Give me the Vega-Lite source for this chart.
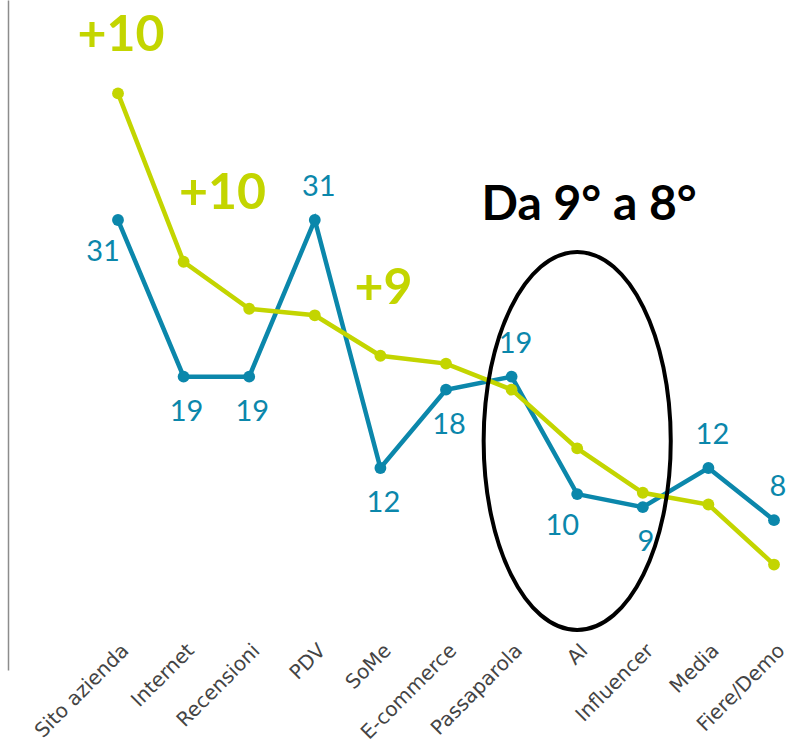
{
  "$schema": "https://vega.github.io/schema/vega-lite/v6.json",
  "width": 780,
  "height": 670,
  "autosize": {"type": "none"},
  "padding": {"left": 8, "top": 0, "right": 0, "bottom": 80},
  "background": "white",
  "config": {
    "view": {"stroke": null},
    "font": "Lato",
    "axis": {"labelFont": "DejaVu Sans"}
  },
  "datasets": {
    "serie": [
      {"canale": "Sito azienda", "serie": "S1", "valore": 31},
      {"canale": "Internet", "serie": "S1", "valore": 19},
      {"canale": "Recensioni", "serie": "S1", "valore": 19},
      {"canale": "PDV", "serie": "S1", "valore": 31},
      {"canale": "SoMe", "serie": "S1", "valore": 12},
      {"canale": "E-commerce", "serie": "S1", "valore": 18},
      {"canale": "Passaparola", "serie": "S1", "valore": 19},
      {"canale": "AI", "serie": "S1", "valore": 10},
      {"canale": "Influencer", "serie": "S1", "valore": 9},
      {"canale": "Media", "serie": "S1", "valore": 12},
      {"canale": "Fiere/Demo", "serie": "S1", "valore": 8},
      {"canale": "Sito azienda", "serie": "S2", "valore": 40.7},
      {"canale": "Internet", "serie": "S2", "valore": 27.8},
      {"canale": "Recensioni", "serie": "S2", "valore": 24.2},
      {"canale": "PDV", "serie": "S2", "valore": 23.7},
      {"canale": "SoMe", "serie": "S2", "valore": 20.6},
      {"canale": "E-commerce", "serie": "S2", "valore": 20.0},
      {"canale": "Passaparola", "serie": "S2", "valore": 18.0},
      {"canale": "AI", "serie": "S2", "valore": 13.5},
      {"canale": "Influencer", "serie": "S2", "valore": 10.1},
      {"canale": "Media", "serie": "S2", "valore": 9.2},
      {"canale": "Fiere/Demo", "serie": "S2", "valore": 4.6}
    ],
    "note": [
      {"canale": "Sito azienda", "valore": 45.1, "testo": "+10"},
      {"canale": "Internet", "valore": 33.0, "testo": "+10"},
      {"canale": "SoMe", "valore": 25.7, "testo": "+9"}
    ],
    "evidenza": [
      {"canale": "AI", "valore": 14.07, "testo": "Da 9° a 8°", "altezza": 32.1}
    ]
  },
  "encoding": {
    "x": {
      "field": "canale",
      "type": "ordinal",
      "sort": ["Sito azienda", "Internet", "Recensioni", "PDV", "SoMe", "E-commerce", "Passaparola", "AI", "Influencer", "Media", "Fiere/Demo"],
      "scale": {"type": "point", "range": [110, 766], "padding": 0},
      "axis": {
        "title": null,
        "orient": "bottom",
        "offset": -32,
        "domain": false,
        "ticks": false,
        "labelAngle": -45,
        "labelFont": "DejaVu Sans",
        "labelFontSize": 20,
        "labelColor": "#444444",
        "labelPadding": 2
      }
    },
    "y": {
      "field": "valore",
      "type": "quantitative",
      "scale": {"domain": [-3.48, 47.86], "nice": false, "zero": false},
      "axis": {
        "title": null,
        "labels": false,
        "ticks": false,
        "grid": false,
        "domain": true,
        "domainColor": "#8c8c8c",
        "domainWidth": 1.5
      }
    }
  },
  "layer": [
    {
      "data": {"name": "serie"},
      "mark": {"type": "line", "strokeWidth": 4.5, "point": {"filled": true, "size": 140, "opacity": 1}},
      "encoding": {
        "color": {
          "field": "serie",
          "type": "nominal",
          "scale": {"domain": ["S1", "S2"], "range": ["#0b87ab", "#c3d500"]},
          "legend": null
        },
        "order": {"field": "serie"}
      }
    },
    {
      "data": {"name": "serie"},
      "transform": [
        {"filter": "datum.serie == 'S1'"},
        {"filter": {"field": "canale", "oneOf": ["Internet", "Recensioni", "SoMe", "E-commerce", "Influencer"]}}
      ],
      "mark": {"type": "text", "fontSize": 29, "color": "#0b87ab", "baseline": "middle", "align": "center", "dx": 3, "dy": 35},
      "encoding": {"text": {"field": "valore", "type": "quantitative", "format": "d"}}
    },
    {
      "data": {"name": "serie"},
      "transform": [
        {"filter": "datum.serie == 'S1'"},
        {"filter": {"field": "canale", "oneOf": ["PDV", "Passaparola", "Media", "Fiere/Demo"]}}
      ],
      "mark": {"type": "text", "fontSize": 29, "color": "#0b87ab", "baseline": "middle", "align": "center", "dx": 4, "dy": -33},
      "encoding": {"text": {"field": "valore", "type": "quantitative", "format": "d"}}
    },
    {
      "data": {"name": "serie"},
      "transform": [
        {"filter": "datum.serie == 'S1'"},
        {"filter": {"field": "canale", "oneOf": ["Sito azienda", "AI"]}}
      ],
      "mark": {"type": "text", "fontSize": 29, "color": "#0b87ab", "baseline": "middle", "align": "center", "dx": -15, "dy": 32},
      "encoding": {"text": {"field": "valore", "type": "quantitative", "format": "d"}}
    },
    {
      "data": {"name": "note"},
      "transform": [{"filter": "datum.canale != 'Internet'"}],
      "mark": {"type": "text", "fontSize": 50, "fontWeight": "bold", "color": "#c3d500", "baseline": "middle", "align": "center", "dx": 3},
      "encoding": {"text": {"field": "testo"}}
    },
    {
      "data": {"name": "note"},
      "transform": [{"filter": "datum.canale == 'Internet'"}],
      "mark": {"type": "text", "fontSize": 50, "fontWeight": "bold", "color": "#c3d500", "baseline": "middle", "align": "center", "dx": 39},
      "encoding": {"text": {"field": "testo"}}
    },
    {
      "data": {"name": "evidenza"},
      "mark": {
        "type": "point",
        "shape": "M -0.495 0 A 0.495 1 0 1 1 0.495 0 A 0.495 1 0 1 1 -0.495 0 Z",
        "filled": false,
        "stroke": "#000000",
        "strokeWidth": 4,
        "size": 142884,
        "opacity": 1
      }
    },
    {
      "data": {"name": "evidenza"},
      "mark": {"type": "text", "fontSize": 48, "fontWeight": "bold", "color": "#000000", "baseline": "middle", "align": "center", "dx": 12},
      "encoding": {
        "y": {"field": "altezza", "type": "quantitative"},
        "text": {"field": "testo"}
      }
    }
  ]
}
